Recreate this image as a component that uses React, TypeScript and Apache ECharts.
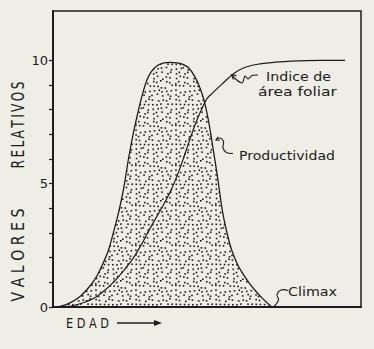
import React, { useEffect, useRef } from "react";
import * as echarts from "echarts";

// Productividad (bell curve) – x in % of the age axis, y in relative values
const bellX = [0, 3, 6, 9, 12, 14, 16, 18, 20, 21.5, 23, 24.5, 26, 27.5, 29, 30.5, 32, 34, 36, 38, 40, 42, 44, 46, 47.5, 49, 50.5, 52, 53.5, 55, 56.5, 58, 60, 62, 64, 66, 68, 71];
const bellY = [0, 0.05, 0.2, 0.45, 0.85, 1.2, 1.7, 2.3, 3.2, 3.95, 4.85, 6.0, 7.0, 7.85, 8.6, 9.2, 9.55, 9.8, 9.9, 9.92, 9.9, 9.85, 9.7, 9.35, 8.95, 8.4, 7.55, 6.4, 5.2, 3.9, 3.0, 2.31, 1.7, 1.28, 0.92, 0.62, 0.35, 0];

// Indice de área foliar (sigmoid)
const laiX = [4, 6, 8, 10, 12, 14.5, 17, 20, 23, 26, 29, 32, 35, 38, 41, 43.5, 46, 48, 50, 52, 55, 58.5, 62, 66, 70, 75, 80, 87, 94.8];
const laiY = [0, 0.04, 0.1, 0.18, 0.28, 0.45, 0.7, 1.05, 1.48, 1.97, 2.6, 3.3, 3.95, 4.65, 5.55, 6.45, 7.35, 7.95, 8.45, 8.7, 9.05, 9.45, 9.7, 9.83, 9.9, 9.95, 9.98, 10, 10];

const yTickValues = [0, 1, 2, 3, 4, 5, 6, 7, 8, 9, 10];
const yLabelValues = [0, 5, 10];
const yTitleWords = ["V A L O R E S", "R\u2009E\u2009L\u2009A\u2009T\u2009I\u2009V\u2009O\u2009S"];
const xTitle = "E D A D";
const laiLabel = ["Indice de", "área foliar"];
const prodLabel = "Productividad";
const climaxLabel = "Climax";

const FONT = "'DejaVu Sans', sans-serif";
const INK = "#1c1c1c";
const PAPER = "#eeeee7";

function makeStipple(): HTMLCanvasElement {
  const c = document.createElement("canvas");
  c.width = 40;
  c.height = 40;
  const ctx = c.getContext("2d")!;
  ctx.fillStyle = INK;
  for (let gy = 0; gy < 9; gy++) {
    for (let gx = 0; gx < 9; gx++) {
      const h = (gx * 73 + gy * 151 + gx * gy * 37) % 29;
      const h2 = (gx * 41 + gy * 89 + gx * gy * 23) % 31;
      const px = gx * 4.44 + (h / 29) * 3;
      const py = gy * 4.44 + (h2 / 31) * 3;
      ctx.fillRect(px, py, 1.6, 1.6);
    }
  }
  return c;
}

const mctx = document.createElement("canvas").getContext("2d")!;
function measure(t: string, size: number) {
  mctx.font = `${size}px 'DejaVu Sans'`;
  return mctx.measureText(t).width || 1;
}

function fitText(text: string, x: number, y: number, width: number, size: number, sy: number, align: string, rotation = 0) {
  const sx = width / measure(text, size);
  return {
    type: "text",
    x,
    y,
    rotation,
    scaleX: sx,
    scaleY: sy,
    z: 10,
    style: {
      text,
      fill: INK,
      fontSize: size,
      fontFamily: FONT,
      align,
      verticalAlign: "middle",
    },
  };
}

function leader(points: number[][], smooth = 0.4) {
  return {
    type: "polyline",
    z: 10,
    shape: { points, smooth },
    style: { stroke: INK, lineWidth: 1.1, fill: "none" },
  };
}

export default function App() {
  const ref = useRef<HTMLDivElement>(null);
  useEffect(() => {
    if (!ref.current) return;
    const chart = echarts.init(ref.current, null, { renderer: "svg" });
    const stipple = makeStipple();
    const option: any = {
      animation: false,
      backgroundColor: PAPER,
      grid: {
        left: 53,
        right: 13,
        top: 11,
        bottom: 42,
        show: true,
        borderColor: INK,
        borderWidth: 1.5,
        backgroundColor: "transparent",
      },
      xAxis: {
        type: "value",
        min: 0,
        max: 100,
        axisLine: { show: true, onZero: false, lineStyle: { color: INK, width: 2 } },
        axisTick: { show: false },
        axisLabel: { show: false },
        splitLine: { show: false },
      },
      yAxis: {
        type: "value",
        min: 0,
        max: 12,
        axisLine: { show: true, lineStyle: { color: INK, width: 2 } },
        axisTick: {
          show: true,
          inside: false,
          length: 4,
          customValues: yTickValues,
          lineStyle: { color: INK, width: 1.2 },
        },
        axisLabel: {
          customValues: yLabelValues,
          margin: 5,
          color: INK,
          fontSize: 13,
          fontFamily: FONT,
        },
        splitLine: { show: false },
      },
      series: [
        {
          type: "line",
          name: "Productividad",
          data: bellX.map((x, i) => [x, bellY[i]]),
          smooth: 0.3,
          symbol: "none",
          lineStyle: { color: INK, width: 1.3 },
          areaStyle: { color: { image: stipple, repeat: "repeat" }, opacity: 1 },
          z: 2,
        },
        {
          type: "line",
          name: "Indice de área foliar",
          data: laiX.map((x, i) => [x, laiY[i]]),
          smooth: 0.3,
          symbol: "none",
          lineStyle: { color: INK, width: 1.2 },
          z: 3,
        },
      ],
      graphic: [
        fitText(yTitleWords[0], 18, 255, 93, 15, 1.2, "center", Math.PI / 2),
        fitText(yTitleWords[1], 18, 125, 87, 15, 1.2, "center", Math.PI / 2),
        fitText(xTitle, 66, 323, 43, 14, 1.0, "left"),
        fitText(laiLabel[0], 266, 76, 65, 13, 1.0, "left"),
        fitText(laiLabel[1], 258, 91, 79, 13, 1.0, "left"),
        fitText(prodLabel, 239, 155, 96, 13, 1.0, "left"),
        fitText(climaxLabel, 288, 291, 49, 13, 1.0, "left"),
        // EDAD arrow
        { type: "line", z: 10, shape: { x1: 117, y1: 323, x2: 156, y2: 323 }, style: { stroke: INK, lineWidth: 1.3 } },
        { type: "polygon", z: 10, shape: { points: [[154, 320], [162, 323], [154, 326]] }, style: { fill: INK } },
        // Indice leader + arrowhead
        leader([[231.5, 75], [242, 83], [245, 76], [248, 79], [252, 75.5], [258, 75]], 0.35),
        leader([[233.5, 79.6], [231.5, 75], [236.5, 75.6]], 0),
        // Productividad leader
        leader([[216, 140], [220, 138], [223.5, 141.5], [223, 148], [226.5, 152.5], [233, 153.5]], 0.4),
        leader([[220, 140.2], [216, 140], [218.2, 136.7]], 0),
        // Climax leader
        leader([[288, 290.5], [281, 290], [277, 294.5], [278.5, 300], [274, 306.5]], 0.4),
      ],
    };
    chart.setOption(option);
    return () => chart.dispose();
  }, []);
  return <div ref={ref} style={{ position: "fixed", left: 0, top: 0, width: 374, height: 349 }} />;
}
